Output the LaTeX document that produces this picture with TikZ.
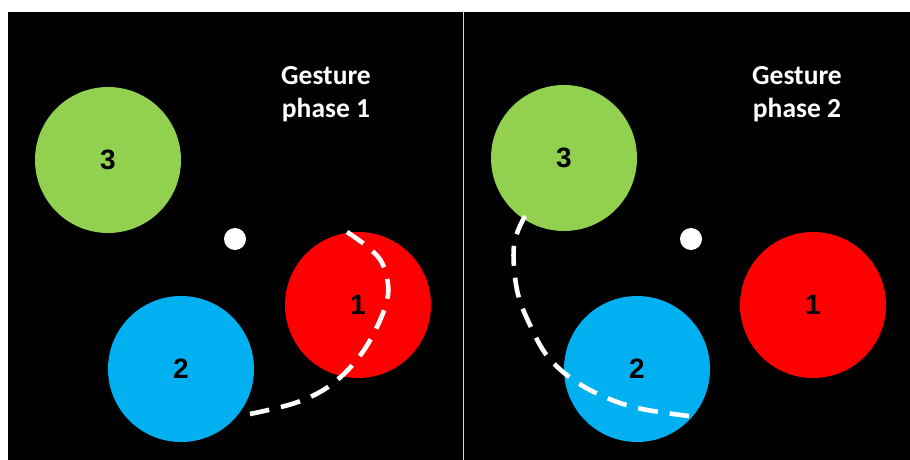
\documentclass[tikz,border=0pt]{standalone}
\usepackage{fontspec}
\newfontfamily\labelfont{Carlito}[BoldFont={Carlito Bold}]
\newfontfamily\digitfont{Liberation Sans}
\definecolor{ggreen}{HTML}{92D050}
\definecolor{gred}{HTML}{FF0000}
\definecolor{gblue}{HTML}{00B0F0}
\definecolor{divider}{HTML}{D9D9D9}
\tikzset{
  ball/.style={circle, minimum size=146pt, inner sep=0pt, font=\digitfont\bfseries\fontsize{28}{30}\selectfont, text=black},
  dot/.style={circle, fill=white, minimum size=22pt, inner sep=0pt},
  title/.style={align=center, text=white, font=\labelfont\bfseries\fontsize{27.5}{33}\selectfont},
  gesture/.style={white, line width=4.6pt, dash pattern=on 20pt off 12pt}
}
\begin{document}
\begin{tikzpicture}[x=1pt,y=-1pt]
\useasboundingbox (0,0) rectangle (910,460);
\fill[white] (0,0) rectangle (910,460);
\fill[black] (8,12) rectangle (910,460);
\draw[divider, line width=1pt] (463,12) -- (463,460);
% left panel
\node[title] (t1) at (326,94) {Gesture\\phase 1};
\node[ball, fill=ggreen] (g1) at (108,160) {3};
\node[dot] (d1) at (235,239) {};
\node[ball, fill=gred] (r1) at (358,305) {1};
\node[ball, fill=gblue] (b1) at (181,369) {2};
\coordinate (s1) at (347,232);
\coordinate (e1) at (250,414);
\draw[gesture] plot[smooth, tension=0.6] coordinates {(s1) (369,248) (383,265) (388,295) (375,331) (355,362) (328,387) (295,403) (e1)};
% right panel
\node[title] (t2) at (797,94) {Gesture\\phase 2};
\node[ball, fill=ggreen] (g2) at (564,158) {3};
\node[dot] (d2) at (691,239) {};
\node[ball, fill=gred] (r2) at (813,305) {1};
\node[ball, fill=gblue] (b2) at (637,369) {2};
\coordinate (s2) at (525,216);
\coordinate (e2) at (689,416);
\draw[gesture] plot[smooth, tension=0.6] coordinates {(s2) (514,245) (517,290) (530,325) (548,357) (575,381) (607,398) (642,409) (e2)};
\end{tikzpicture}
\end{document}
